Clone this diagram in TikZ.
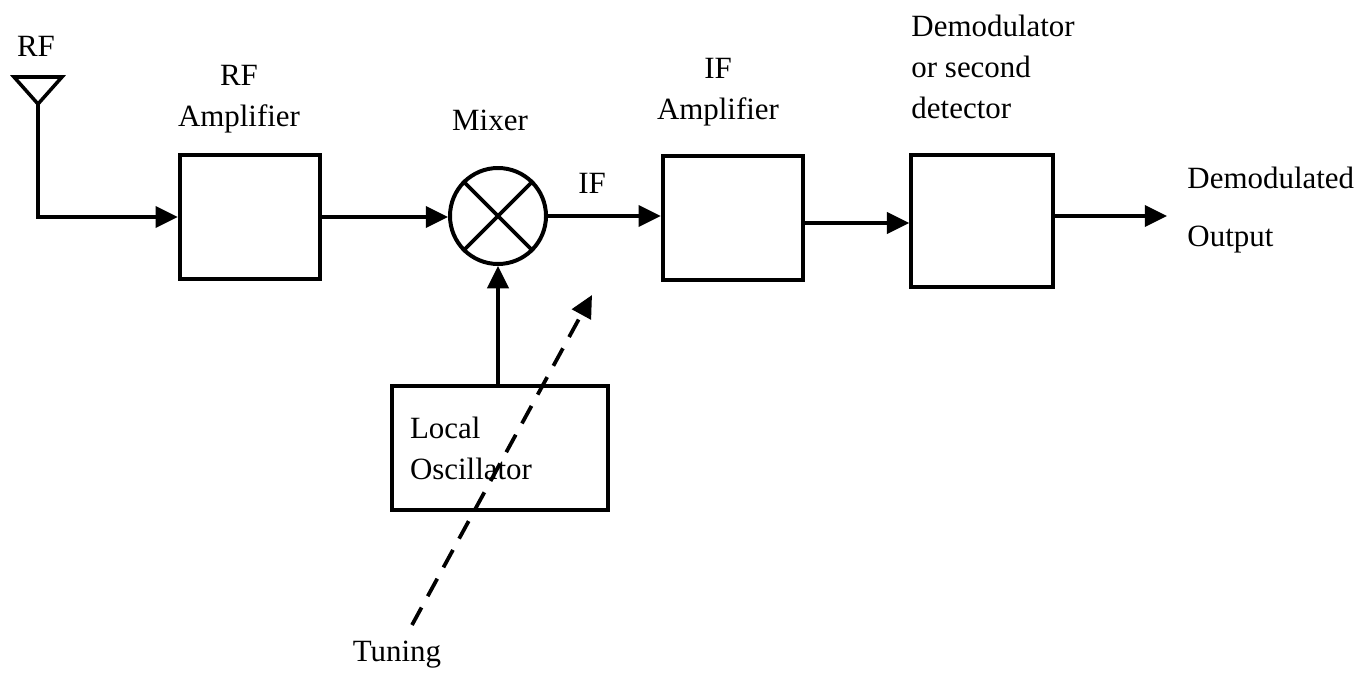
\documentclass[tikz,border=0pt]{standalone}
\usepackage{fontspec}
\setmainfont{Liberation Serif}
\usetikzlibrary{arrows.meta}

\tikzset{
  block/.style={draw, line width=1.8pt, minimum width=2.1cm, minimum height=1.86cm, inner sep=0pt},
  mixnode/.style={draw, circle, line width=1.7pt, minimum size=1.44cm, inner sep=0pt},
  lbl/.style={font=\fontsize{13.2}{17.5}\selectfont, inner sep=0pt},
  sig/.style={->, line width=1.5pt},
  tunedash/.style={->, line width=1.6pt, dash pattern=on 8.5pt off 5.5pt},
}

\begin{document}
\begin{tikzpicture}[x=0.015cm, y=-0.015cm, >={Triangle[length=9.5pt,width=9pt]}]
  \useasboundingbox (0,0) rectangle (1370,676);

  % blocks
  \node[block] (rfamp) at (250,217) {};
  \node[mixnode] (mixer) at (498,216) {};
  \node[block] (ifamp) at (733,218) {};
  \node[block, minimum width=2.12cm, minimum height=1.98cm] (demod) at (982,221) {};
  \node[block, lbl, minimum width=3.24cm, minimum height=1.85cm, text width=2.7cm, align=left] (lo) at (500,448) {Local\\Oscillator};
  \draw[line width=1.6pt] (mixer.45) -- (mixer.225) (mixer.135) -- (mixer.315);

  % labels
  \node[lbl] (rflbl) at (36,46) {RF};
  \node[lbl, align=center] (rfamplbl) at (239,99) {RF\\Amplifier};
  \node[lbl] (mixlbl) at (490,120) {Mixer};
  \node[lbl] (iflbl) at (592,183) {IF};
  \node[lbl, align=center] (ifamplbl) at (718,92) {IF\\Amplifier};
  \node[lbl, align=left, anchor=north west] (demodlbl) at (911,15) {Demodulator\\or second\\detector};
  \node[lbl, align=left, anchor=west] (outlbl) at (1187,210) {Demodulated\\[7pt]Output};
  \node[lbl] (tunelbl) at (397,655) {Tuning};

  % antenna
  \draw[line width=1.5pt, line join=miter] (14,77) -- (62,77) -- (38,104) -- cycle;
  \coordinate (ant) at (38,104);
  \coordinate (out) at (1167,216);
  \coordinate (tunetail) at (412,625);
  \coordinate (tunetip) at (592,295);

  % connectors
  \draw[sig] (ant) |- (rfamp.west);
  \draw[sig] (rfamp) -- (rfamp -| mixer.west);
  \draw[sig] (mixer) -- (mixer -| ifamp.west);
  \draw[sig] (ifamp.east |- 0,223) -- (demod.west |- 0,223);
  \draw[sig] (demod.east |- out) -- (out);
  \draw[sig] (lo.north -| mixer.south) -- (mixer.south);
  \draw[tunedash] (tunetail) -- (tunetip);
\end{tikzpicture}
\end{document}
